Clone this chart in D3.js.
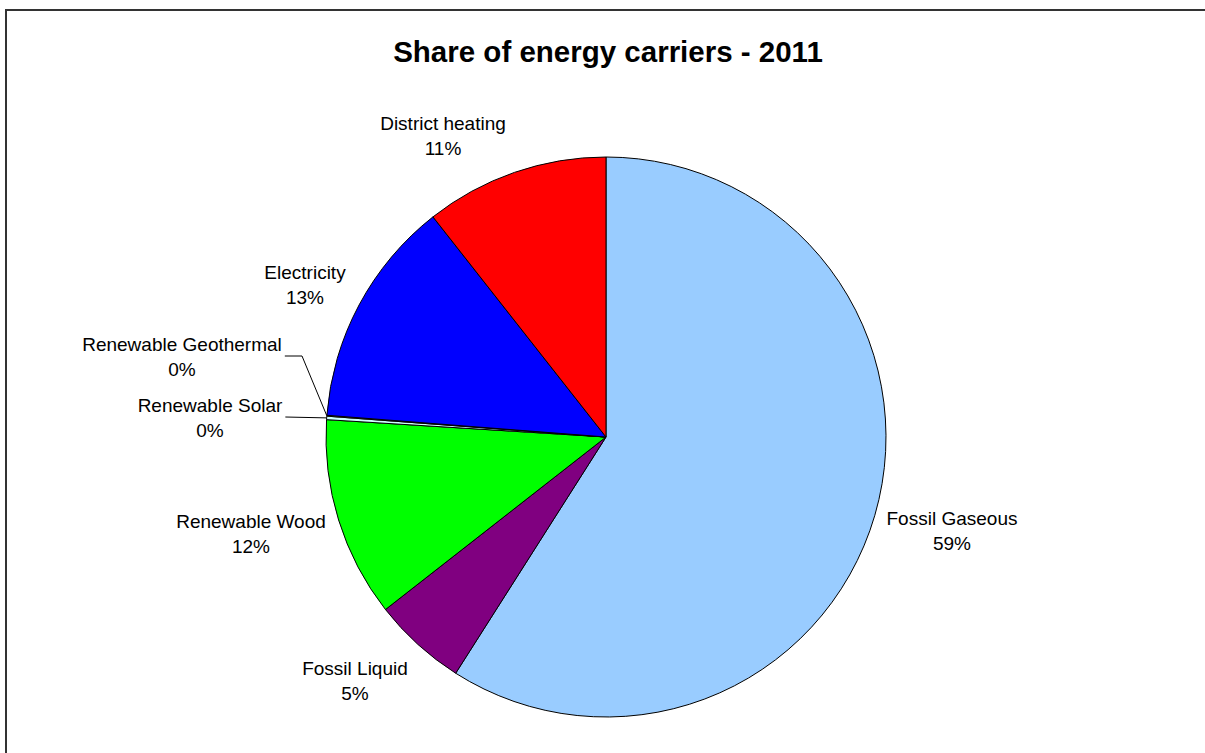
<!DOCTYPE html>
<html>
<head>
<meta charset="utf-8">
<script src="https://cdn.jsdelivr.net/npm/d3@7/dist/d3.min.js"></script>
<style>
  html, body { margin: 0; padding: 0; background: #fff; overflow: hidden; }
  svg { display: block; }
  text { font-family: "Liberation Sans", Arial, sans-serif; fill: #000; }
</style>
</head>
<body>
<svg id="chart" width="1205" height="753"></svg>
<script>
// Energy carrier shares, 2011 (percent), in clockwise order from 12 o'clock
const categories = ["Fossil Gaseous", "Fossil Liquid", "Renewable Wood", "Renewable Solar",
                    "Renewable Geothermal", "Electricity", "District heating"];
const shares = [59.06, 5.42, 11.56, 0.2, 0.05, 13.17, 10.61];
const sliceColors = ["#99CCFF", "#800080", "#00FF00", "#CCFFFF", "#FFFF99", "#0000FF", "#FF0000"];
const chartTitle = "Share of energy carriers - 2011";

// Label anchors (centre x, first baseline y) and whether a leader line is drawn
const labelLayout = [
  { x: 952, y: 525, leader: false },
  { x: 355, y: 675, leader: false },
  { x: 251, y: 528, leader: false },
  { x: 210, y: 412, leader: true, elbow: null },
  { x: 182, y: 351, leader: true, elbow: 302 },
  { x: 305, y: 279, leader: false },
  { x: 443, y: 130, leader: false }
];

const svg = d3.select("#chart");
const W = 1205, H = 753;
const cx = 606, cy = 437, R = 280;

// Outer frame: only the top and left edges fall inside the page
svg.append("path")
  .attr("d", `M6,${H + 5}V10H${W + 5}`)
  .attr("fill", "none").attr("stroke", "#333").attr("stroke-width", 2);

svg.append("text")
  .attr("x", 608).attr("y", 62)
  .attr("text-anchor", "middle")
  .attr("font-size", 29.5).attr("font-weight", "bold")
  .text(chartTitle);

const data = categories.map((c, i) => ({ name: c, value: shares[i], color: sliceColors[i], i }));

const pie = d3.pie().sort(null).value(d => d.value);
const arcs = pie(data);
const arc = d3.arc().innerRadius(0).outerRadius(R);

const g = svg.append("g").attr("transform", `translate(${cx},${cy})`);

g.selectAll("path.slice")
  .data(arcs)
  .join("path")
  .attr("class", "slice")
  .attr("d", arc)
  .attr("fill", d => d.data.color)
  .attr("stroke", "#000")
  .attr("stroke-width", 1)
  .attr("stroke-linejoin", "round");

const fmt = v => Math.round(v) + "%";
const lineGap = 25;

arcs.forEach((a, i) => {
  const L = labelLayout[i];
  const t = svg.append("text")
    .attr("text-anchor", "middle")
    .attr("font-size", 19);
  t.append("tspan").attr("x", L.x).attr("y", L.y).text(a.data.name);
  t.append("tspan").attr("x", L.x).attr("y", L.y + lineGap).text(fmt(a.data.value));

  if (L.leader) {
    const mid = (a.startAngle + a.endAngle) / 2;
    const px = cx + R * Math.sin(mid), py = cy - R * Math.cos(mid);
    // leader starts just right of the first line of the label
    const textW = t.select("tspan").node().getComputedTextLength();
    const sx = L.x + textW / 2 + 3, sy = L.y + 5;
    const pts = L.elbow ? [[sx, sy], [L.elbow, sy], [px, py]] : [[sx, sy], [px, py]];
    svg.append("path")
      .attr("d", d3.line()(pts))
      .attr("fill", "none").attr("stroke", "#000").attr("stroke-width", 1);
  }
});
</script>
</body>
</html>
